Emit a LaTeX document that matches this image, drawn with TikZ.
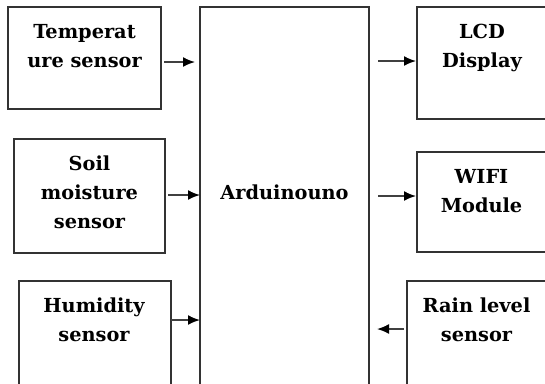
\documentclass[tikz,border=0pt]{standalone}
\usepackage{fontspec}
\setmainfont{DejaVu Serif}
\usetikzlibrary{arrows.meta}

\newlength\unitL
\setlength\unitL{0.75pt}

\tikzset{
  blk/.style={draw=black!80, line width=1.2pt, inner sep=0pt, outer sep=0pt, anchor=north west},
  lbl/.style={anchor=north, align=center, inner sep=0pt, font=\bfseries\fontsize{14.5pt}{21.75pt}\selectfont},
  flow/.style={->, line width=1.3pt, draw=black!75},
}

\begin{document}
\begin{tikzpicture}[x=\unitL, y=-\unitL, >={Latex[length=9pt,width=7.5pt,black]}]

  \useasboundingbox (0,0) rectangle (545,383);
  \clip (0,0) rectangle (545,383);

  % === Controller block (runs past the bottom edge) ===
  \node[blk, minimum width=169\unitL, minimum height=410\unitL] (ard) at (200,7) {};
  \node[lbl, anchor=center] (ardT) at (284.5,192) {Arduinouno};

  % === Sensors on the left ===
  \node[blk, minimum width=153\unitL, minimum height=102\unitL] (temp) at (8,7) {};
  \node[lbl] (tempT) at (84.5,24) {Temperat\\ure sensor};

  \node[blk, minimum width=151\unitL, minimum height=114\unitL] (soil) at (14,139) {};
  \node[lbl] (soilT) at (89.5,156) {Soil\\moisture\\sensor};

  \node[blk, minimum width=152\unitL, minimum height=130\unitL] (hum) at (19,281) {};
  \node[lbl] (humT) at (94,298) {Humidity\\sensor};

  % === Outputs and rain sensor on the right (cut by the page edge) ===
  \node[blk, minimum width=140\unitL, minimum height=112\unitL] (lcd) at (417,7) {};
  \node[lbl] (lcdT) at (482,24) {LCD\\Display};

  \node[blk, minimum width=140\unitL, minimum height=100\unitL] (wifi) at (417,152) {};
  \node[lbl] (wifiT) at (481.5,169) {WIFI\\Module};

  \node[blk, minimum width=150\unitL, minimum height=130\unitL] (rain) at (407,281) {};
  \node[lbl] (rainT) at (476.5,298) {Rain level\\sensor};

  % === Arrows into the controller ===
  \draw[flow, shorten <=2.25pt, shorten >=3.75pt] (temp.east |- 0,62) -- (ard.west |- 0,62);
  \draw[flow, shorten <=2.25pt] (soil.east |- 0,195) -- (ard.west |- 0,195);
  \draw[flow] (hum.east |- 0,320) -- (ard.west |- 0,320);
  \draw[flow, shorten <=2.25pt, shorten >=6pt] (rain.west |- 0,329) -- (ard.east |- 0,329);

  % === Arrows out of the controller ===
  \draw[flow, shorten <=6.75pt, shorten >=0.75pt] (ard.east |- 0,61) -- (lcd.west |- 0,61);
  \draw[flow, shorten <=6.75pt, shorten >=0.75pt] (ard.east |- 0,196) -- (wifi.west |- 0,196);

\end{tikzpicture}
\end{document}
